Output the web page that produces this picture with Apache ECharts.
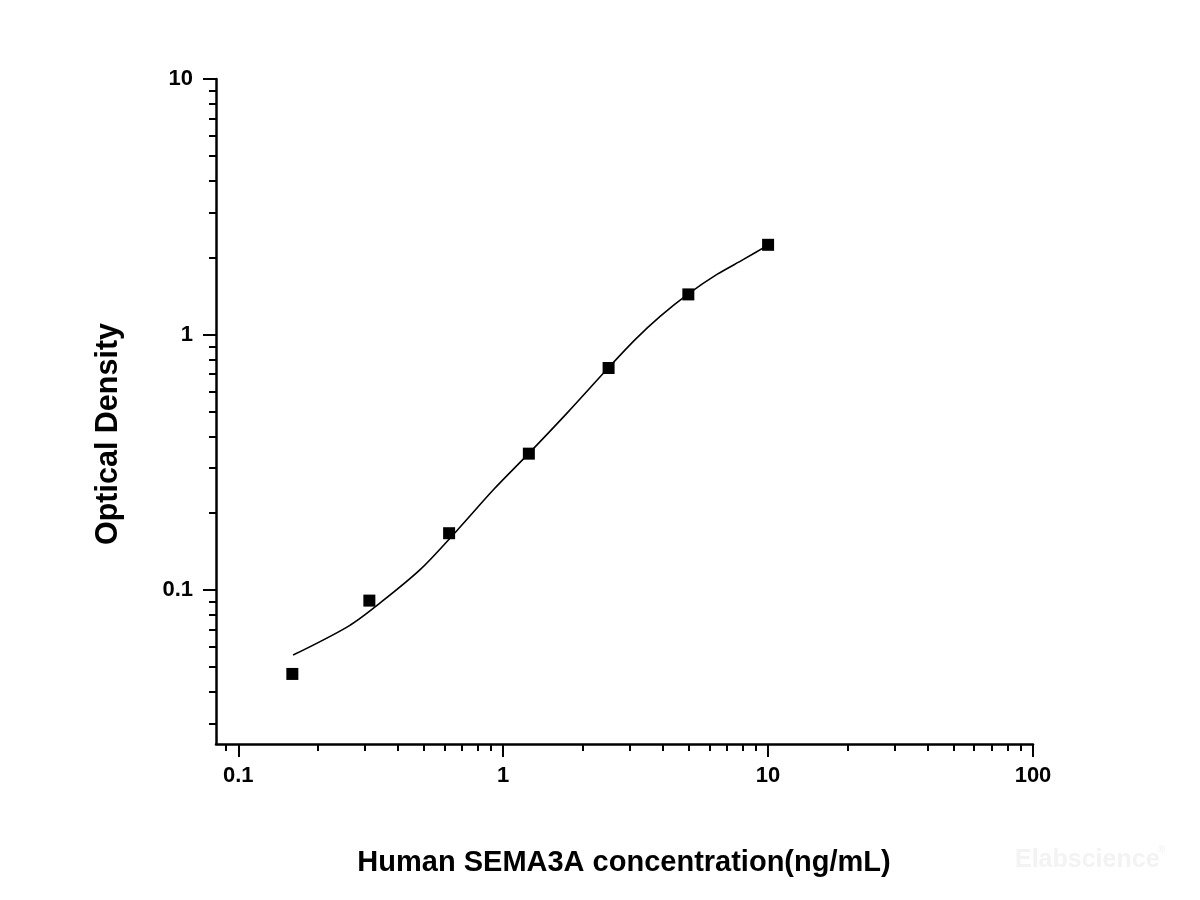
<!DOCTYPE html>
<html>
<head>
<meta charset="utf-8">
<title>SEMA3A standard curve</title>
<script src="https://cdn.jsdelivr.net/npm/echarts@6/dist/echarts.min.js"></script>
<style>
  html, body { margin: 0; padding: 0; background: #fff; }
  #chart { width: 1200px; height: 900px; }
</style>
</head>
<body>
<div id="chart"></div>
<script>
// standard points (ng/mL, OD)
var concentration = [0.16, 0.3125, 0.625, 1.25, 2.5, 5, 10];
var opticalDensity = [0.047, 0.091, 0.167, 0.342, 0.74, 1.436, 2.245];

// fitted curve
var fitConc = [0.161, 0.262, 0.345, 0.488, 0.671, 0.922, 1.247, 1.745, 2.486, 3.155, 3.922, 5.0, 6.412, 8.075, 10];
var fitOD = [0.0557, 0.0725, 0.0895, 0.1208, 0.1716, 0.248, 0.342, 0.494, 0.738, 0.958, 1.181, 1.443, 1.719, 1.968, 2.238];

// tick labels
var xTickLabels = ['0.1', '1', '10', '100'];
var yTickLabels = ['0.1', '1', '10'];

// axis range
var xRange = [0.0824, 100];
var yRange = [0.025, 10];

(function () {
    var log = Math.log10;
    var font = 'Arial, "Liberation Sans", sans-serif';

    // minor ticks at 2..9 of every decade inside the range
    function minorTicks(range) {
        var out = [];
        for (var e = -3; e <= 3; e++) {
            for (var k = 2; k <= 9; k++) {
                var v = k * Math.pow(10, e);
                if (v >= range[0] && v <= range[1]) out.push(log(v));
            }
        }
        return out;
    }

    function labelOf(list) {
        return function (v) {
            for (var i = 0; i < list.length; i++) {
                if (Math.abs(log(parseFloat(list[i])) - v) < 1e-6) return list[i];
            }
            return '';
        };
    }

    var xMajor = xTickLabels.map(function (s) { return log(parseFloat(s)); });
    var yMajor = yTickLabels.map(function (s) { return log(parseFloat(s)); });

    var myChart = echarts.init(document.getElementById('chart'));

    var option = {
        animation: false,
        backgroundColor: '#fff',
        grid: {
            left: 216, right: 167, top: 79, bottom: 156,
            containLabel: false,
            outerBoundsMode: 'none'
        },
        xAxis: [
            {
                type: 'value',
                position: 'bottom',
                min: log(xRange[0]),
                max: log(xRange[1]),
                axisLine: { show: true, onZero: false, lineStyle: { color: '#000', width: 2.5 } },
                axisTick: { show: true, inside: false, length: 13, customValues: xMajor, lineStyle: { color: '#000', width: 2 } },
                axisLabel: {
                    customValues: xMajor,
                    formatter: labelOf(xTickLabels),
                    margin: 21,
                    color: '#000',
                    fontFamily: font,
                    fontWeight: 'bold',
                    fontSize: 22
                },
                splitLine: { show: false }
            },
            {
                type: 'value',
                position: 'bottom',
                min: log(xRange[0]),
                max: log(xRange[1]),
                axisLine: { show: false, onZero: false },
                axisTick: { show: true, inside: false, length: 7, customValues: minorTicks(xRange), lineStyle: { color: '#000', width: 2 } },
                axisLabel: { show: false },
                splitLine: { show: false }
            }
        ],
        yAxis: [
            {
                type: 'value',
                position: 'left',
                min: log(yRange[0]),
                max: log(yRange[1]),
                axisLine: { show: true, onZero: false, lineStyle: { color: '#000', width: 2.5 } },
                axisTick: { show: true, inside: false, length: 13, customValues: yMajor, lineStyle: { color: '#000', width: 2 } },
                axisLabel: {
                    customValues: yMajor,
                    formatter: labelOf(yTickLabels),
                    margin: 23,
                    color: '#000',
                    fontFamily: font,
                    fontWeight: 'bold',
                    fontSize: 22
                },
                splitLine: { show: false }
            },
            {
                type: 'value',
                position: 'left',
                min: log(yRange[0]),
                max: log(yRange[1]),
                axisLine: { show: false, onZero: false },
                axisTick: { show: true, inside: false, length: 7, customValues: minorTicks(yRange), lineStyle: { color: '#000', width: 2 } },
                axisLabel: { show: false },
                splitLine: { show: false }
            }
        ],
        series: [
            {
                name: 'fit',
                type: 'line',
                xAxisIndex: 0,
                yAxisIndex: 0,
                smooth: 0.3,
                showSymbol: false,
                lineStyle: { color: '#000', width: 1.6 },
                data: fitConc.map(function (c, i) { return [log(c), log(fitOD[i])]; }),
                z: 2
            },
            {
                name: 'standard',
                type: 'scatter',
                xAxisIndex: 0,
                yAxisIndex: 0,
                symbol: 'rect',
                symbolSize: 12,
                itemStyle: { color: '#000', opacity: 1 },
                data: concentration.map(function (c, i) { return [log(c), log(opticalDensity[i])]; }),
                z: 3
            }
        ],
        graphic: [
            {
                type: 'text',
                x: 109, y: 434,
                rotation: Math.PI / 2,
                style: {
                    text: 'Optical Density',
                    fill: '#000',
                    font: 'bold 30.5px ' + font,
                    align: 'center',
                    verticalAlign: 'middle'
                }
            },
            {
                type: 'text',
                x: 624, y: 863,
                style: {
                    text: 'Human SEMA3A concentration(ng/mL)',
                    fill: '#000',
                    font: 'bold 29px ' + font,
                    align: 'center',
                    verticalAlign: 'middle'
                }
            },
            {
                type: 'text',
                x: 1015, y: 860,
                style: {
                    text: 'Elabscience',
                    fill: '#f3f3f3',
                    font: 'bold 25px ' + font,
                    align: 'left',
                    verticalAlign: 'middle'
                }
            },
            {
                type: 'text',
                x: 1158, y: 850,
                style: {
                    text: '®',
                    fill: '#f3f3f3',
                    font: 'bold 10px ' + font,
                    align: 'left',
                    verticalAlign: 'middle'
                }
            }
        ]
    };

    myChart.setOption(option);

    window.addEventListener('resize', function () {
        myChart.resize();
    });
})();
</script>
</body>
</html>
